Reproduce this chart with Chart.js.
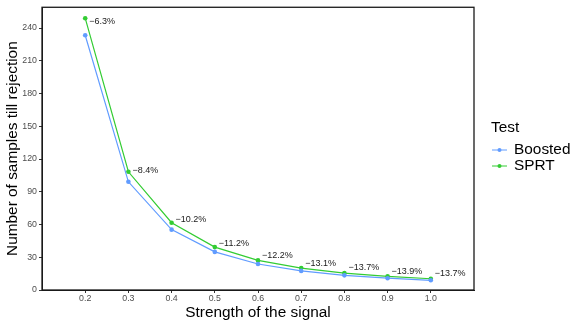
<!DOCTYPE html>
<html>
<head>
<meta charset="utf-8">
<script src="https://cdn.jsdelivr.net/npm/chart.js@4"></script>
<style>
  html, body { margin: 0; padding: 0; background: #fff; }
  #wrap { width: 581px; height: 327px; }
</style>
</head>
<body>
<div id="wrap"><canvas id="myChart" width="581" height="327"></canvas></div>
<script>
// signal strength on the x axis
var strength = [0.2, 0.3, 0.4, 0.5, 0.6, 0.7, 0.8, 0.9, 1.0];
// samples needed till rejection
var boosted = [233.4, 99.1, 55.3, 34.9, 23.8, 17.5, 13.4, 10.8, 8.9];
var sprt = [249.0, 108.3, 61.6, 39.3, 27.1, 20.1, 15.5, 12.5, 10.3];
// difference labels next to the SPRT points
var diffLabels = ['\u22126.3%', '\u22128.4%', '\u221210.2%', '\u221211.2%', '\u221212.2%',
                  '\u221213.1%', '\u221213.7%', '\u221213.9%', '\u221213.7%'];
var yTicks = [0, 30, 60, 90, 120, 150, 180, 210, 240];

var blue = '#619CFF';
var green = '#33CC33';
var fontFam = 'Liberation Sans, Arial, sans-serif';

function pts(ys) {
  return strength.map(function (x, i) { return { x: x, y: ys[i] }; });
}

var extras = {
  id: 'extras',
  afterDatasetsDraw: function (chart) {
    var ctx = chart.ctx;
    var a = chart.chartArea;
    var xs = chart.scales.x, ys = chart.scales.y;
    ctx.save();
    // difference labels, nudged up near the bottom (top one sits just below the point)
    ctx.fillStyle = '#1a1a1a';
    ctx.font = '9px ' + fontFam;
    ctx.textAlign = 'left';
    ctx.textBaseline = 'middle';
    for (var i = 0; i < strength.length; i++) {
      var py = ys.getPixelForValue(sprt[i]);
      var off = py - a.top < 15 ? 3 : -Math.max(0, (py - 150) / 24);
      ctx.fillText(diffLabels[i], xs.getPixelForValue(strength[i]) + 4, py + off);
    }
    // panel border
    ctx.strokeStyle = '#1a1a1a';
    ctx.lineWidth = 1.3;
    ctx.strokeRect(a.left, a.top, a.right - a.left, a.bottom - a.top);
    ctx.restore();
  },
  afterDraw: function (chart) {
    var ctx = chart.ctx;
    var a = chart.chartArea;
    ctx.save();
    ctx.fillStyle = '#000';
    // axis titles
    ctx.font = '15.4px ' + fontFam;
    ctx.textAlign = 'center';
    ctx.textBaseline = 'middle';
    ctx.fillText('Strength of the signal', (a.left + a.right) / 2, 313);
    ctx.translate(13, (a.top + a.bottom) / 2);
    ctx.rotate(-Math.PI / 2);
    ctx.fillText('Number of samples till rejection', 0, 0);
    ctx.restore();
    // legend
    ctx.save();
    ctx.font = '15.4px ' + fontFam;
    ctx.textAlign = 'left';
    ctx.textBaseline = 'middle';
    ctx.fillStyle = '#000';
    ctx.fillText('Test', 491, 128);
    var items = [['Boosted', blue, 150], ['SPRT', green, 166]];
    items.forEach(function (it) {
      ctx.strokeStyle = it[1];
      ctx.fillStyle = it[1];
      ctx.lineWidth = 1;
      ctx.beginPath();
      ctx.moveTo(492, it[2]);
      ctx.lineTo(507, it[2]);
      ctx.stroke();
      ctx.beginPath();
      ctx.arc(499.5, it[2], 2, 0, Math.PI * 2);
      ctx.fill();
      ctx.fillStyle = '#000';
      ctx.fillText(it[0], 514, it[2]);
    });
    ctx.restore();
  }
};

var ctx = document.getElementById('myChart').getContext('2d');

var mychart = new Chart(ctx, {
  type: 'line',
  data: {
    datasets: [{
      label: 'Boosted',
      data: pts(boosted),
      borderColor: blue,
      backgroundColor: blue,
      borderWidth: 1.2,
      pointRadius: 2.3,
      pointBorderWidth: 0,
      tension: 0
    }, {
      label: 'SPRT',
      data: pts(sprt),
      borderColor: green,
      backgroundColor: green,
      borderWidth: 1.2,
      pointRadius: 2.3,
      pointBorderWidth: 0,
      tension: 0
    }]
  },
  options: {
    responsive: false,
    animation: false,
    layout: { padding: { left: 0, top: 6, right: 107, bottom: 0 } },
    plugins: {
      legend: { display: false },
      tooltip: { enabled: false }
    },
    scales: {
      x: {
        type: 'linear',
        min: 0.1,
        max: 1.1,
        afterBuildTicks: function (s) {
          s.ticks = strength.map(function (v) { return { value: v }; });
        },
        afterFit: function (s) { s.height = 37; },
        grid: { drawOnChartArea: false, drawTicks: true, tickLength: 3, tickColor: '#333', tickWidth: 1 },
        border: { display: true, color: '#1a1a1a', width: 1 },
        ticks: {
          padding: 0,
          maxRotation: 0,
          color: '#4d4d4d',
          font: { family: fontFam, size: 8.8 },
          callback: function (v) { return v.toFixed(1); }
        }
      },
      y: {
        min: 0,
        max: 259,
        afterBuildTicks: function (s) {
          s.ticks = yTicks.map(function (v) { return { value: v }; });
        },
        afterFit: function (s) { s.width = 42; },
        grid: { drawOnChartArea: false, drawTicks: true, tickLength: 3, tickColor: '#333', tickWidth: 1 },
        border: { display: true, color: '#1a1a1a', width: 1 },
        ticks: {
          padding: 2,
          color: '#4d4d4d',
          font: { family: fontFam, size: 8.8 }
        }
      }
    }
  },
  plugins: [extras]
});
</script>
</body>
</html>
